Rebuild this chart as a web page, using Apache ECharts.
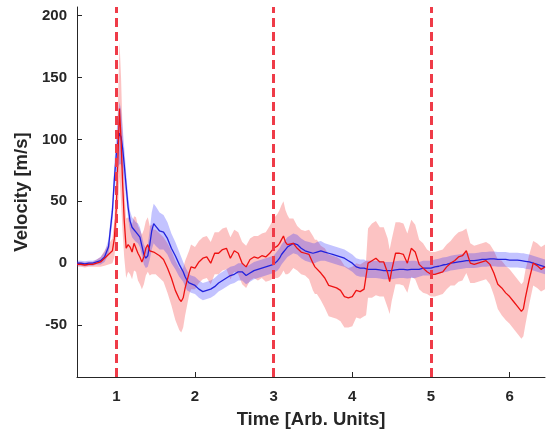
<!DOCTYPE html>
<html>
<head>
<meta charset="utf-8">
<script src="https://cdn.jsdelivr.net/npm/echarts@6/dist/echarts.min.js"></script>
<style>html,body{margin:0;padding:0;background:#fff}#c{width:546px;height:437px}</style>
</head>
<body>
<div id="c"></div>
<script>
const time = [
  0.50,0.55,0.60,0.65,0.70,0.75,0.80,0.85,0.90,0.95,
  0.975,1.00,1.025,1.04,1.06,1.08,1.10,1.125,1.15,1.175,
  1.20,1.225,1.25,1.275,1.30,1.325,1.35,1.375,1.40,1.425,
  1.45,1.475,1.50,1.55,1.60,1.65,1.70,1.75,1.80,1.825,
  1.85,1.875,1.90,1.925,1.95,2.00,2.05,2.10,2.15,2.20,
  2.25,2.30,2.35,2.40,2.45,2.50,2.55,2.60,2.65,2.70,
  2.75,2.80,2.85,2.90,2.95,3.00,3.05,3.075,3.10,3.125,
  3.15,3.175,3.20,3.25,3.30,3.35,3.40,3.45,3.50,3.525,
  3.55,3.60,3.65,3.70,3.75,3.80,3.85,3.90,3.95,4.00,
  4.05,4.10,4.15,4.175,4.20,4.25,4.30,4.35,4.40,4.45,
  4.475,4.50,4.55,4.60,4.65,4.70,4.75,4.80,4.85,4.90,
  4.95,5.00,5.05,5.10,5.15,5.20,5.25,5.30,5.35,5.40,
  5.45,5.50,5.55,5.60,5.65,5.70,5.75,5.80,5.85,5.90,
  5.95,6.00,6.05,6.10,6.15,6.175,6.20,6.25,6.30,6.35,
  6.40,6.45
];
const blueMean = [
  0,0,-0.5,0,0,1,2,5,13,42,
  68,88,100,105,102,93,80,62,45,34,
  29,27,25,24,21,14,7,4,6,15,
  26,32,30,26,25,20,12,6,-1,-4,
  -7,-11,-14,-16,-17,-18,-21,-23,-22,-21,
  -19,-16,-14,-12,-10,-9,-7,-7,-10,-8,
  -6,-5,-4,-3,-2,-1,2,4,7,9,
  11,13,14,16,15,12,10,9,8,8,
  9,10,9,8,7,6,5,4,2,0,
  -3,-4,-4,-5,-5,-5,-5,-5.5,-6,-6,
  -6,-6,-5.5,-5,-5,-5.5,-5,-5,-5,-4,
  -4,-4,-3,-2.5,-1.5,-1,0,0.5,1,1.5,
  2,2,2,2.5,3,3,3.5,3.5,3,3,
  3,2.5,2.5,2.5,2,2,1.5,1,0,-1,
  -2,-3
];
const blueSd = [
  2,2,2,2,2,2,3,4,6,9,
  12,16,22,25,22,17,14,11,9,8,
  8,8,8,8,8,8,8,8,9,12,
  15,16,16,15,14,13,12,11,10,9,
  8,8,8,7,7,7,7,7,7,7,
  7,7,7,7,7,7,7,7,7,7,
  7,7,7,7,7,7,8,8,8,8,
  8,8,8,8,8,8,8,8,8,8,
  8,8,7,7,7,7,7,7,7,7,
  7,7,7,7,7,7,7,7,7,7,
  7,7,7,7,7,7,7,7,6,6,
  6,6,6,6,6,6,6,6,6,6,
  6,6,6,6,6,6,6,6,6,6,
  6,6,6,6,6,6,6,6,6,6,
  6,6
];
const redMean = [
  -1,-1,-1.5,-1,-1,0,1,4,7,10,
  20,45,95,125,100,65,35,12,15,13,
  9,16,15,8,5,1,5,12,15,10,
  11,9,9,6,3,-4,-12,-22,-29,-31,
  -28,-20,-14,-8,-3,-4,1,4,5,0,
  8,8,11,12,4,10,8,0,-3,3,
  5,4,6,5,8,12,14,16,19,22,
  17,15,14,16,12,9,8,7,0,-3,
  -3,-8,-12,-18,-19,-20,-22,-27,-28,-27,
  -22,-23,-21,-20,0,2,4,1,1,-8,
  -15,-6,8,8,7,0,12,9,-1,-4,
  -7,-9,-9,-8,-7,-3,0,2,5,6,
  10,0,-1,0,1,2,-1,-8,-17,-20,
  -24,-27,-31,-35,-39,-37,-28,-13,0,-2,
  -5,-3
];
const redSd = [
  2,2,2,2,2,3,4,6,8,10,
  15,25,45,55,50,40,30,24,22,22,
  22,22,22,22,22,22,22,22,22,20,
  20,18,18,18,18,20,22,24,25,25,
  24,22,20,18,18,17,17,17,17,17,
  17,17,17,17,17,17,17,17,17,17,
  17,18,18,20,22,24,26,27,28,28,
  26,24,22,20,18,18,18,20,22,22,
  22,22,24,25,25,25,25,25,24,24,
  22,22,22,22,28,30,30,28,28,28,
  26,25,25,25,25,24,23,22,20,20,
  18,18,18,18,18,18,18,20,20,20,
  18,16,15,15,15,15,16,18,20,22,
  22,22,22,22,22,22,22,20,18,18,
  18,18
];
const xTicks = [1,2,3,4,5,6];
const yTicks = [-50,0,50,100,150,200];
const eventTimes = [1,3,5];

const pairs = (ys) => time.map((t,i)=>[t, ys[i]]);
const bandRows = (m,s) => time.map((t,i)=>[t, m[i]-s[i], m[i]+s[i]]);

function bandSeries(rows, color, z){
  return {
    type:'custom', z:z, silent:true,
    data: rows,
    encode:{x:0, y:[1,2]},
    clip:true,
    renderItem:function(params, api){
      if (params.dataIndex !== 0) return null;
      const up = rows.map(r=>api.coord([r[0], r[2]]));
      const lo = rows.map(r=>api.coord([r[0], r[1]])).reverse();
      return {type:'polygon', shape:{points: up.concat(lo)}, style:{fill:color}};
    }
  };
}

const txt = '#262626';
const font = 'Liberation Sans, Arial, Helvetica';
const chart = echarts.init(document.getElementById('c'), null, {renderer:'canvas'});
chart.setOption({
  animation:false,
  backgroundColor:'#fff',
  grid:{left:77, right:1, top:7, bottom:60, containLabel:false},
  xAxis:{
    type:'value', min:0.5, max:6.45,
    axisLine:{show:true, onZero:false, lineStyle:{color:txt, width:1}},
    axisTick:{show:true, inside:true, length:5, customValues:xTicks, lineStyle:{color:txt}},
    axisLabel:{customValues:xTicks, color:txt, fontWeight:'bold', fontSize:15, fontFamily:font, margin:12},
    splitLine:{show:false},
    name:'Time [Arb. Units]', nameLocation:'middle', nameGap:33,
    nameTextStyle:{color:txt, fontWeight:'bold', fontSize:18.5, fontFamily:font}
  },
  yAxis:{
    type:'value', min:-92, max:207,
    axisLine:{show:true, onZero:false, lineStyle:{color:txt, width:1}},
    axisTick:{show:true, inside:true, length:5, customValues:yTicks, lineStyle:{color:txt}},
    axisLabel:{customValues:yTicks, color:txt, fontWeight:'bold', fontSize:15, fontFamily:font, margin:10},
    splitLine:{show:false},
    name:'Velocity [m/s]', nameLocation:'middle', nameGap:36, nameRotate:90,
    nameTextStyle:{color:txt, fontWeight:'bold', fontSize:18.5, fontFamily:font}
  },
  series:[
    bandSeries(bandRows(redMean, redSd), 'rgba(245,40,40,0.28)', 1),
    bandSeries(bandRows(blueMean, blueSd), 'rgba(40,40,255,0.28)', 2),
    {type:'line', data:pairs(blueMean), showSymbol:false, lineStyle:{color:'#2222dd', width:1.3}, z:3},
    {type:'line', data:pairs(redMean), showSymbol:false, lineStyle:{color:'#ee1111', width:1.3}, z:4,
     markLine:{silent:true, symbol:['none','none'], label:{show:false},
       lineStyle:{color:'#ef3b48', width:3, type:[9,5]},
       data:eventTimes.map(t=>({xAxis:t}))}}
  ]
});
</script>
</body>
</html>
